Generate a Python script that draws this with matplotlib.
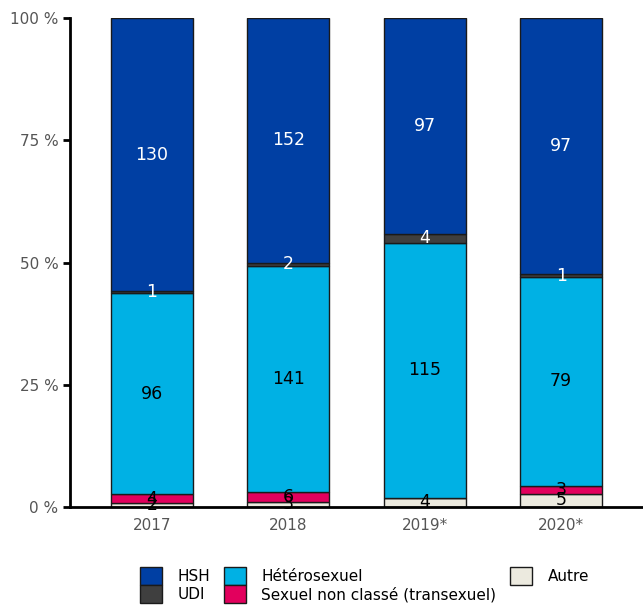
import numpy as np
import matplotlib.pyplot as plt
from matplotlib.patches import Patch
from matplotlib.ticker import FuncFormatter

years = ['2017', '2018', '2019*', '2020*']
autre = [2, 3, 4, 5]
sexuel_nc = [4, 6, 0, 3]
hetero = [96, 141, 115, 79]
udi = [1, 2, 4, 1]
hsh = [130, 152, 97, 97]

series = [
    ('Autre', autre, '#ECEADF', 'black'),
    ('Sexuel non classé (transexuel)', sexuel_nc, '#E2005D', 'black'),
    ('Hétérosexuel', hetero, '#00B1E4', 'black'),
    ('UDI', udi, '#3F3F3F', 'white'),
    ('HSH', hsh, '#003FA3', 'white'),
]

fig = plt.figure(figsize=(6.43, 6.10), dpi=100)
ax = fig.add_axes([0.109, 0.169, 0.891, 0.801])

x = np.arange(len(years))
totals = np.sum([s[1] for s in series], axis=0)
bottom = np.zeros(len(years))
handles = {}
for name, vals, color, tcol in series:
    pct = np.array(vals) / totals * 100
    ax.bar(x, pct, 0.6, bottom=bottom, color=color, edgecolor='#1a1a1a', linewidth=1.0)
    for i, v in enumerate(vals):
        if v > 0:
            ax.text(x[i], bottom[i] + pct[i] / 2, str(v), ha='center', va='center',
                    color=tcol, fontsize=12.5)
    handles[name] = Patch(facecolor=color, edgecolor='#1a1a1a', linewidth=1.0)
    bottom += pct

ax.set_xlim(-0.6, 3.6)
ax.set_ylim(0, 100)
ax.set_yticks([0, 25, 50, 75, 100])
ax.yaxis.set_major_formatter(FuncFormatter(lambda v, p: f'{int(v)} %'))
ax.set_xticks(x)
ax.set_xticklabels(years)
ax.tick_params(axis='y', labelcolor='#555555', labelsize=11, length=5, width=2, color='black')
ax.tick_params(axis='x', labelcolor='#555555', labelsize=11, length=0, pad=8)
for s in ['top', 'right']:
    ax.spines[s].set_visible(False)
for s in ['left', 'bottom']:
    ax.spines[s].set_linewidth(2)
    ax.spines[s].set_color('black')

order = ['HSH', 'UDI', 'Hétérosexuel', 'Sexuel non classé (transexuel)', 'Autre']
fig.legend([handles[n] for n in order], order, loc='center', ncol=3,
           bbox_to_anchor=(0.567, 0.041), frameon=False, fontsize=11,
           handlelength=1.45, handleheight=1.4, columnspacing=0.9,
           labelspacing=0.05, handletextpad=1.0)

fig.savefig('out.png', dpi=100)
